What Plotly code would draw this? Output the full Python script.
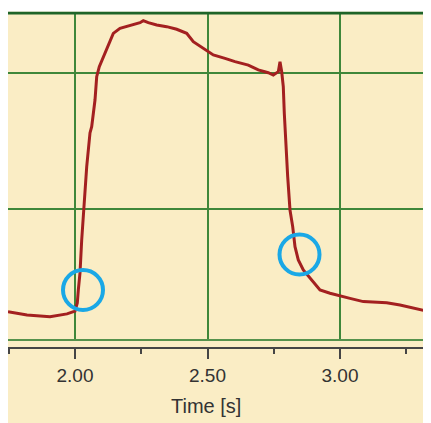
import plotly.graph_objects as go

# ---- data ----
time_s = [1.7472, 1.8189, 1.9057, 1.9698, 2.0000, 2.0087, 2.0125, 2.0189, 2.0253,
          2.0340, 2.0442, 2.0566, 2.0630, 2.0755, 2.0819, 2.0917, 2.1068, 2.1257,
          2.1445, 2.1698, 2.1951, 2.2200, 2.2453, 2.2577, 2.2766, 2.3083, 2.3460,
          2.3838, 2.4215, 2.4464, 2.4842, 2.5219, 2.5660, 2.6038, 2.6540, 2.6917,
          2.7294, 2.7483, 2.7672, 2.7736, 2.7800, 2.7860, 2.7898, 2.7951, 2.8026,
          2.8113, 2.8215, 2.8302, 2.8426, 2.8615, 2.8932, 2.9245, 2.9623, 3.0000,
          3.0377, 3.0879, 3.1762, 3.2264, 3.2766, 3.3396]
signal = [0.250, 0.226, 0.214, 0.234, 0.255, 0.314, 0.409, 0.534, 0.775,
          1.007, 1.312, 1.559, 1.605, 1.800, 1.971, 2.044, 2.117, 2.203,
          2.288, 2.325, 2.337, 2.349, 2.366, 2.381, 2.366, 2.349, 2.337,
          2.318, 2.288, 2.227, 2.179, 2.130, 2.105, 2.081, 2.056, 2.020,
          2.000, 1.983, 2.007, 2.081, 2.007, 1.898, 1.705, 1.485, 1.239,
          0.995, 0.873, 0.726, 0.629, 0.556, 0.482, 0.409, 0.385, 0.369,
          0.348, 0.324, 0.316, 0.299, 0.275, 0.250]

# highlighted points (circle markers)
circle_t = [2.0302, 2.8472]
circle_v = [0.409, 0.669]

x_ticks = [2.0, 2.5, 3.0]
x_tick_labels = ["2.00", "2.50", "3.00"]
x_title = "Time [s]"

X_RANGE = [1.7472, 3.3434]
Y_RANGE = [0.043, 2.437]

BG = "#FAEDC5"
GRID = "#3F873A"
TEXT = "#333333"
FONT = "Liberation Sans, Arial, sans-serif"

# the page body adds an 8px white margin at top/left
W, H = 423, 415
ML, MR, MT, MB = 0, 0, 5, 75
PW, PH = W - ML - MR, H - MT - MB

fig = go.Figure()
fig.add_trace(go.Scatter(x=time_s, y=signal, mode="lines",
                         line=dict(color="#A32020", width=3),
                         hoverinfo="skip", showlegend=False))
# invisible trace to host the lower tick axis
fig.add_trace(go.Scatter(x=time_s, y=signal, mode="lines", xaxis="x2",
                         line=dict(width=0), opacity=0,
                         hoverinfo="skip", showlegend=False))

shapes = []
# plot-frame borders
shapes.append(dict(type="line", xref="x domain", yref="y domain", x0=0, x1=1, y0=0, y1=0,
                   line=dict(color="#55924C", width=2)))
shapes.append(dict(type="line", xref="x domain", yref="y domain", x0=0, x1=1, y0=1, y1=1,
                   line=dict(color="#1E6428", width=3)))
# circles
for t, v in zip(circle_t, circle_v):
    shapes.append(dict(type="circle", xref="x", yref="y", xsizemode="pixel", ysizemode="pixel",
                       xanchor=t, yanchor=v, x0=-20, x1=20, y0=-20, y1=20,
                       line=dict(color="#1AA8E6", width=4)))
# white strip above the frame
shapes.append(dict(type="rect", xref="paper", yref="paper", x0=-0.05, x1=1.05,
                   y0=1 + 1.5 / PH, y1=1.1, fillcolor="white", line=dict(width=0)))

fig.update_layout(
    width=W, height=H,
    margin=dict(l=ML, r=MR, t=MT, b=MB, pad=0),
    paper_bgcolor=BG, plot_bgcolor=BG,
    font=dict(family=FONT, color=TEXT),
    showlegend=False,
    xaxis=dict(range=X_RANGE, showgrid=True, gridcolor=GRID, gridwidth=2,
               tickvals=x_ticks, showticklabels=False, ticks="", zeroline=False,
               showline=False, fixedrange=True),
    xaxis2=dict(range=X_RANGE, overlaying="x", anchor="free", position=0, side="bottom",
                showgrid=False, zeroline=False, showline=True, linecolor="#454545", linewidth=2,
                tickvals=x_ticks, ticktext=x_tick_labels, ticks="outside", ticklen=10,
                tickwidth=2, tickcolor="#454545",
                tickfont=dict(size=19, color=TEXT, family=FONT),
                minor=dict(dtick=0.25, tick0=0, ticks="outside", ticklen=5,
                           tickwidth=2, tickcolor="#454545", showgrid=False),
                fixedrange=True),
    yaxis=dict(range=Y_RANGE, domain=[8 / PH, 1], showgrid=True, gridcolor=GRID, gridwidth=2,
               dtick=1, tick0=0, showticklabels=False, ticks="", zeroline=False,
               showline=False, fixedrange=True),
    shapes=shapes,
    annotations=[dict(text=x_title, xref="paper", yref="paper",
                      x=198 / PW, y=(PH - (398 - MT)) / PH,
                      xanchor="center", yanchor="middle", showarrow=False,
                      font=dict(size=20, color=TEXT, family=FONT))],
)

fig.write_html("out.html")
